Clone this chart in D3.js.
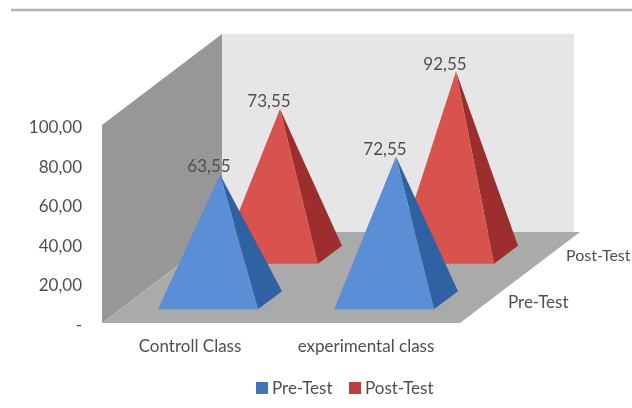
<!DOCTYPE html>
<html>
<head>
<meta charset="utf-8">
<script src="https://cdn.jsdelivr.net/npm/d3@7"></script>
<style>
  html, body { margin: 0; padding: 0; background: #fff; overflow: hidden; }
  text { font-family: Lato, "Open Sans", sans-serif; fill: #505050; }
</style>
</head>
<body>
<script>
// values
const categories = ['Controll Class', 'experimental class']
const seriesNames = ['Pre-Test', 'Post-Test']
const preTest = [63.55, 72.55]
const postTest = [73.55, 92.55]
const yTicks = [0, 20, 40, 60, 80, 100]

const width = 632
const height = 408
const fontSize = 17

const svg = d3.select('body').append('svg')
  .attr('width', width)
  .attr('height', height)

const defs = svg.append('defs')
defs.append('filter').attr('id', 'soft')
  .append('feGaussianBlur').attr('stdDeviation', 0.6)
defs.append('filter').attr('id', 'softText')
  .append('feGaussianBlur').attr('stdDeviation', 0.35)

// front plane scales
const x = d3.scaleBand().domain(categories).range([102, 454])
const y = d3.scaleLinear().domain([0, 100]).range([323, 125])

// depth runs from the front of the floor (0) to the back wall (2 series deep)
const depthX = d3.scaleLinear().domain([0, 2]).range([0, 120])
const depthY = d3.scaleLinear().domain([0, 2]).range([0, -91])

const project = (px, value, depth) => [px + depthX(depth), y(value) + depthY(depth)]
const poly = pts => d3.line()(pts) + 'Z'

const x0 = 102
const x1 = 460
const chart = svg.append('g').attr('filter', 'url(#soft)')

// title rule
chart.append('line')
  .attr('x1', 11).attr('x2', width)
  .attr('y1', 10).attr('y2', 10)
  .attr('stroke', '#b4b4b4').attr('stroke-width', 2.5)

// back wall, side wall, floor
chart.append('path')
  .attr('d', poly([project(x0, 100, 2), project(x1 - 6, 100, 2), project(x1 - 6, 0, 2), project(x0, 0, 2)]))
  .attr('fill', '#e6e6e6')
chart.append('path')
  .attr('d', poly([project(x0, 0, 0), project(x0, 100, 0), project(x0, 100, 2), project(x0, 0, 2)]))
  .attr('fill', '#979797')
chart.append('path')
  .attr('d', poly([project(x0, 0, 0), project(x1, 0, 0), project(x1, 0, 2), project(x0, 0, 2)]))
  .attr('fill', '#aaaaaa')

// pyramids, back row first so the front row covers it
const rows = [
  { name: seriesNames[1], values: postTest, depth: 1.5, front: '#d8524e', side: '#9c2f2d' },
  { name: seriesNames[0], values: preTest, depth: 0.5, front: '#5a8fd6', side: '#2f62a3' }
]
const baseHalf = 50
const baseDepth = 0.2

rows.forEach(row => {
  const g = chart.append('g').attr('class', 'series')
  categories.forEach((cat, i) => {
    const cx = x(cat) + x.bandwidth() / 2
    const apex = project(cx, row.values[i], row.depth)
    const fl = project(cx - baseHalf, 0, row.depth - baseDepth)
    const fr = project(cx + baseHalf, 0, row.depth - baseDepth)
    const br = project(cx + baseHalf, 0, row.depth + baseDepth)
    g.append('path').attr('d', poly([fr, br, apex])).attr('fill', row.side)
    g.append('path').attr('d', poly([fl, fr, apex])).attr('fill', row.front)
  })
})

const textLayer = svg.append('g').attr('filter', 'url(#softText)')

// value labels stay on top of every pyramid, shifted left of the apex as in the source
rows.forEach(row => {
  categories.forEach((cat, i) => {
    const cx = x(cat) + x.bandwidth() / 2
    const apex = project(cx, row.values[i], row.depth)
    textLayer.append('text')
      .attr('x', apex[0] - 11)
      .attr('y', apex[1] - 2)
      .attr('text-anchor', 'middle')
      .attr('font-size', fontSize)
      .text(d3.format('.2f')(row.values[i]).replace('.', ','))
  })
})

// value axis
const yAxis = d3.axisLeft(y)
  .tickValues(yTicks)
  .tickSize(0)
  .tickPadding(0)
  .tickFormat(d => d === 0 ? '-' : d3.format('.2f')(d).replace('.', ','))
const yG = textLayer.append('g').attr('transform', 'translate(82,2)').call(yAxis)
yG.select('.domain').remove()
yG.selectAll('text').attr('font-size', fontSize).style('font-family', 'Lato, sans-serif').style('fill', '#505050')

// category axis
const xAxis = d3.axisBottom(x).tickSize(0).tickPadding(0)
const xG = textLayer.append('g').attr('transform', 'translate(0,340)').call(xAxis)
xG.select('.domain').remove()
xG.selectAll('text').attr('font-size', fontSize).style('font-family', 'Lato, sans-serif').style('fill', '#505050')

// depth axis labels, the back one a little smaller so it stays inside the window
const depthLabelPos = [[508, 308, 17], [566, 261, 16]]
seriesNames.forEach((name, i) => {
  textLayer.append('text')
    .attr('x', depthLabelPos[i][0])
    .attr('y', depthLabelPos[i][1])
    .attr('font-size', depthLabelPos[i][2])
    .text(name)
})

// legend
const legendX = [256, 349]
const legendColors = ['#3f74b8', '#b93f3c']
seriesNames.forEach((name, i) => {
  textLayer.append('rect')
    .attr('x', legendX[i]).attr('y', 382)
    .attr('width', 12).attr('height', 12)
    .attr('fill', legendColors[i])
  textLayer.append('text')
    .attr('x', legendX[i] + 16).attr('y', 394)
    .attr('font-size', fontSize)
    .text(name)
})
</script>
</body>
</html>
